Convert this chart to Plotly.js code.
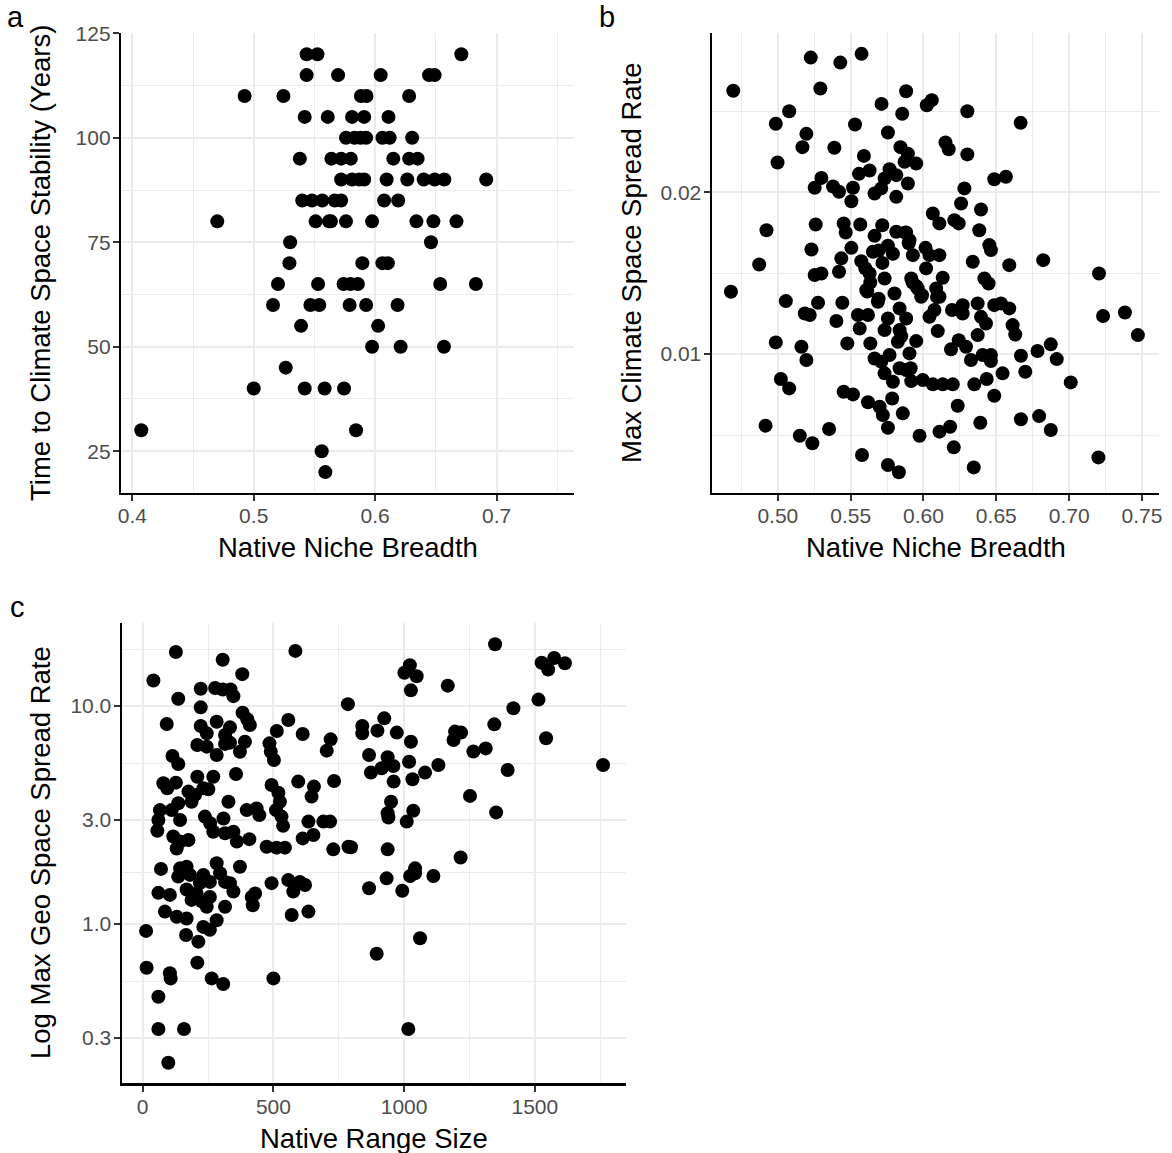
<!DOCTYPE html>
<html>
<head>
<meta charset="utf-8">
<script src="https://cdn.plot.ly/plotly-3.0.1.min.js"></script>
<style>
  html, body { margin: 0; padding: 0; background: #ffffff; }
  #chart { width: 1172px; height: 1153px; }
</style>
</head>
<body>
<div id="chart"></div>
<script>
// ---------- Panel a: Native Niche Breadth vs Time to Climate Space Stability ----------
const aNiche = [
  0.5436, 0.5525, 0.671,
  0.5436, 0.5695, 0.6046, 0.6444, 0.649,
  0.4925, 0.5245, 0.5883, 0.5929, 0.628,
  0.542, 0.561, 0.581, 0.591, 0.611,
  0.576, 0.583, 0.588, 0.5926, 0.606, 0.612, 0.6305,
  0.538, 0.564, 0.572, 0.580, 0.615, 0.628, 0.635,
  0.572, 0.581, 0.587, 0.591, 0.6095, 0.6265, 0.640, 0.649, 0.657, 0.6915,
  0.540, 0.548, 0.5565, 0.5667, 0.572, 0.6074, 0.619,
  0.470, 0.551, 0.562, 0.5636, 0.576, 0.5975, 0.634, 0.648, 0.667,
  0.530, 0.646,
  0.5294, 0.5895, 0.606, 0.6105,
  0.520, 0.553, 0.574, 0.5797, 0.5858, 0.6536, 0.683,
  0.5159, 0.5467, 0.554, 0.579, 0.5926, 0.6185,
  0.539, 0.6025,
  0.5975, 0.621, 0.6567,
  0.5264,
  0.500, 0.542, 0.5584, 0.5744,
  0.4074, 0.5843,
  0.556,
  0.559
];
const aYears = [
  120, 120, 120,
  115, 115, 115, 115, 115,
  110, 110, 110, 110, 110,
  105, 105, 105, 105, 105,
  100, 100, 100, 100, 100, 100, 100,
  95, 95, 95, 95, 95, 95, 95,
  90, 90, 90, 90, 90, 90, 90, 90, 90, 90,
  85, 85, 85, 85, 85, 85, 85,
  80, 80, 80, 80, 80, 80, 80, 80, 80,
  75, 75,
  70, 70, 70, 70,
  65, 65, 65, 65, 65, 65, 65,
  60, 60, 60, 60, 60, 60,
  55, 55,
  50, 50, 50,
  45,
  40, 40, 40, 40,
  30, 30,
  25,
  20
];

// ---------- Panel b: Native Niche Breadth vs Max Climate Space Spread Rate ----------
const bNiche = [
  0.4694,0.5226,0.5429,0.5575,0.5292,0.5881,0.6057,0.6023,0.5712,0.5854,
  0.5078,0.4986,0.5530,0.5756,0.5196,0.5169,0.5388,0.4998,0.5591,0.5842,
  0.5893,0.5950,0.5870,0.5630,0.5557,0.5767,0.5733,0.5813,0.5299,0.5253,
  0.5379,0.5420,0.5516,0.5505,0.5664,0.5710,0.5813,0.5893,0.6064,0.4922,
  0.5260,0.5452,0.5466,0.5566,0.5717,0.5664,0.5813,0.5881,0.5904,0.5756,
  0.5505,0.5231,0.6014,0.4872,0.5436,0.5573,0.5653,0.5927,0.6041,
  0.4678,0.5055,0.5253,0.5299,0.5420,0.5630,0.5733,0.5916,0.6018,0.5607,
  0.5687,0.5801,0.5961,0.5984,0.5276,0.5443,0.5185,0.5219,0.5402,0.5550,
  0.5619,0.5562,0.5756,0.5836,0.5881,0.5733,0.5836,0.6041,0.4986,0.5162,
  0.5477,0.5635,0.5824,0.5950,0.5904,0.5767,0.5664,0.5196,0.5710,0.5836,
  0.5881,0.5733,0.5790,0.5916,0.5995,0.5021,0.5078,0.5452,0.5516,0.5619,
  0.5699,0.5721,0.5785,0.5858,0.4916,0.5151,0.5237,0.5352,0.5756,0.5973,
  0.5578,0.5756,0.5831,
  0.5692,0.5718,0.5635,0.5925,0.5951,0.5600,0.5790,
  0.5614,0.5692,0.5873,0.5899,0.5990,0.6093,0.5847,0.5912,
  0.6301,0.6667,0.6151,0.6173,0.6301,0.6486,0.6566,0.6281,0.6258,0.6395,
  0.6109,0.6212,0.6242,0.6383,0.6452,0.6463,0.6109,0.6338,0.6589,0.6822,
  0.7205,0.6132,0.6087,0.6110,0.6418,0.6447,0.6372,0.6269,0.6196,0.6075,
  0.6486,0.6532,0.6589,0.6395,0.6429,0.6269,0.6098,0.6612,0.6630,0.6372,
  0.7233,0.7383,0.7472,0.6242,0.6292,0.6189,0.6326,0.6406,0.6463,0.6463,
  0.6669,0.6783,0.6874,0.6915,0.6699,0.6543,0.6064,0.6132,0.6201,0.6349,
  0.6434,0.6486,0.7011,0.6235,0.6669,0.6794,0.6874,0.6390,0.6110,0.6183,
  0.6208,0.6345,0.7201
];
const bSpread = [
  0.02626,0.02831,0.02800,0.02854,0.02640,0.02623,0.02568,0.02537,0.02545,0.02484,
  0.02500,0.02422,0.02418,0.02368,0.02360,0.02278,0.02274,0.02183,0.02224,0.02278,
  0.02237,0.02177,0.02187,0.02134,0.02113,0.02142,0.02084,0.02105,0.02088,0.02027,
  0.02035,0.02002,0.02027,0.01944,0.01992,0.02023,0.01971,0.02053,0.01868,0.01765,
  0.01800,0.01807,0.01751,0.01800,0.01796,0.01730,0.01755,0.01751,0.01704,0.01669,
  0.01656,0.01646,0.01656,0.01553,0.01591,0.01574,0.01632,0.01611,0.01611,
  0.01385,0.01327,0.01488,0.01498,0.01508,0.01498,0.01467,0.01467,0.01529,0.01395,
  0.01323,0.01374,0.01405,0.01354,0.01317,0.01317,0.01251,0.01241,0.01204,0.01241,
  0.01241,0.01158,0.01220,0.01282,0.01220,0.01148,0.01148,0.01230,0.01072,0.01045,
  0.01066,0.01066,0.01076,0.01080,0.01004,0.00994,0.00973,0.00963,0.00953,0.00912,
  0.00901,0.00881,0.00829,0.00833,0.00840,0.00846,0.00788,0.00767,0.00751,0.00702,
  0.00675,0.00623,0.00726,0.00634,0.00558,0.00496,0.00449,0.00537,0.00545,0.00496,
  0.00377,0.00315,0.00270,
  0.01640,0.01563,0.01442,0.01442,0.01419,0.01530,0.01620,
  0.01386,0.01342,0.01750,0.01684,0.01364,0.01353,0.01110,0.00912,
  0.02500,0.02428,0.02307,0.02265,0.02233,0.02080,0.02095,0.02023,0.01930,0.01893,
  0.01807,0.01827,0.01807,0.01765,0.01673,0.01642,0.01611,0.01570,0.01549,0.01580,
  0.01498,0.01471,0.01405,0.01354,0.01467,0.01436,0.01313,0.01302,0.01272,0.01272,
  0.01302,0.01313,0.01282,0.01230,0.01189,0.01251,0.01142,0.01179,0.01121,0.01117,
  0.01235,0.01257,0.01117,0.01086,0.01045,0.01029,0.00963,0.00994,0.00994,0.00957,
  0.00990,0.01019,0.01060,0.00969,0.00891,0.00881,0.00813,0.00813,0.00813,0.00813,
  0.00846,0.00743,0.00825,0.00681,0.00597,0.00617,0.00531,0.00576,0.00521,0.00551,
  0.00424,0.00300,0.00362
];

// ---------- Panel c: Native Range Size vs Max Geo Space Spread Rate (log) ----------
const cRange = [
  127,41,306,381,584,222,277,306,336,347,136,222,92,382,400,410,283,222,245,334,
  315,557,513,612,719,704,785,209,245,283,315,334,372,391,485,490,502,114,136,357,
  79,94,127,209,270,175,200,232,251,187,136,66,60,56,111,143,328,398,436,446,
  238,258,309,270,315,347,360,408,493,519,525,510,531,537,595,655,646,732,634,691,
  717,612,653,474,512,544,729,787,117,143,175,130,
  1348,1526,1551,1574,1615,1022,1001,1048,1026,1167,1514,1418,924,840,840,898,972,1026,1195,1218,
  1189,1345,1543,1265,1312,866,937,914,959,873,1019,960,1032,1080,1131,1396,950,937,940,1035,
  1010,1252,1352,797,937,1216,1761,
  70,143,168,136,181,283,296,315,334,347,232,219,206,257,372,60,104,85,130,168,
  168,187,226,257,245,315,283,257,232,13,166,213,209,15,104,107,264,308,500,60,
  60,158,98,417,430,421,493,557,601,621,576,570,634,
  866,933,993,1023,1042,1042,1112,1061,895,1016
];
const cRate = [
  17.7,13.1,16.3,14.0,17.9,12.0,12.1,11.9,11.9,11.1,10.8,9.86,8.27,9.32,8.69,8.18,8.47,8.10,7.49,7.98,
  7.36,8.63,7.68,7.44,7.03,6.24,10.2,6.62,6.51,5.96,6.70,6.79,6.17,6.86,6.74,6.17,5.65,5.90,5.42,4.88,
  4.42,4.19,4.45,4.74,4.74,4.05,3.91,4.19,4.15,3.64,3.58,3.33,3.00,2.68,3.33,3.00,3.64,3.33,3.39,3.16,
  3.11,2.90,3.05,2.65,2.61,2.65,2.39,2.45,4.34,4.00,3.64,3.33,3.11,2.82,4.50,4.27,3.84,4.53,2.95,2.95,
  2.95,2.47,2.56,2.26,2.24,2.24,2.20,2.26,2.52,2.39,2.43,2.22,
  19.2,15.8,14.7,16.6,15.7,15.4,14.2,13.7,11.8,12.4,10.7,9.76,8.78,8.10,7.49,7.71,7.55,6.86,7.63,7.55,
  6.98,8.24,7.11,6.18,6.39,5.96,5.82,5.18,5.31,4.95,5.55,4.50,4.61,4.95,5.36,5.09,3.64,3.22,3.08,3.31,
  2.95,3.87,3.25,2.25,2.20,2.02,5.36,
  1.79,1.80,1.83,1.65,1.68,1.90,1.71,1.56,1.54,1.41,1.68,1.54,1.38,1.56,1.83,1.39,1.36,1.14,1.08,1.06,
  1.44,1.29,1.27,1.33,1.20,1.20,1.04,0.94,0.97,0.93,0.89,0.83,0.665,0.63,0.594,0.563,0.563,0.531,0.563,0.464,
  0.330,0.330,0.231,1.33,1.38,1.22,1.54,1.59,1.56,1.51,1.41,1.10,1.14,
  1.46,1.62,1.42,1.66,1.80,1.71,1.66,0.86,0.73,0.33
];

// ---------- Tick labels ----------
const aXTicks = [0.4, 0.5, 0.6, 0.7];
const aXTickText = ["0.4", "0.5", "0.6", "0.7"];
const aYTicks = [25, 50, 75, 100, 125];
const bXTicks = [0.50, 0.55, 0.60, 0.65, 0.70, 0.75];
const bXTickText = ["0.50", "0.55", "0.60", "0.65", "0.70", "0.75"];
const bYTicks = [0.01, 0.02];
const bYTickText = ["0.01", "0.02"];
const cXTicks = [0, 500, 1000, 1500];
const cYTicks = [0.3, 1, 3, 10];
const cYTickText = ["0.3", "1.0", "3.0", "10.0"];

// ---------- Styling ----------
const W = 1172, H = 1153;
const FONT = "Liberation Sans, Arial, Helvetica, sans-serif";
const tickFont = { family: FONT, size: 21, color: "#4d4d4d" };
const GRID = "#ebebeb";

function px(x0, x1) { return [x0 / W, x1 / W]; }
function py(top, bottom) { return [1 - bottom / H, 1 - top / H]; }

function axis(extra) {
  return Object.assign({
    showline: true, linecolor: "#000000", linewidth: 2.2,
    ticks: "outside", ticklen: 6, tickwidth: 2, tickcolor: "#333333",
    tickfont: tickFont, showgrid: true, gridcolor: GRID, gridwidth: 2,
    zeroline: false, tickmode: "array", automargin: false, fixedrange: true
  }, extra);
}
function minor(vals) {
  return { tickmode: "array", tickvals: vals, showgrid: true, gridcolor: GRID, gridwidth: 1, ticks: "" };
}

const marker = { color: "#000000", size: 14, line: { width: 0 } };

const traces = [
  { type: "scatter", mode: "markers", x: aNiche, y: aYears, xaxis: "x", yaxis: "y", marker: marker, hoverinfo: "x+y" },
  { type: "scatter", mode: "markers", x: bNiche, y: bSpread, xaxis: "x2", yaxis: "y2", marker: marker, hoverinfo: "x+y" },
  { type: "scatter", mode: "markers", x: cRange, y: cRate, xaxis: "x3", yaxis: "y3", marker: marker, hoverinfo: "x+y" }
];

function ann(text, X, Y, size, angle) {
  return {
    text: text, xref: "paper", yref: "paper", x: X / W, y: 1 - Y / H,
    xanchor: "center", yanchor: "middle", showarrow: false, textangle: angle || 0,
    font: { family: FONT, size: size, color: "#000000" }
  };
}

const layout = {
  width: W, height: H,
  margin: { l: 0, r: 0, t: 0, b: 0, pad: 0 },
  paper_bgcolor: "#ffffff", plot_bgcolor: "#ffffff",
  showlegend: false,
  xaxis: axis({ domain: px(121, 574), range: [0.3907, 0.7638], anchor: "y", ticklabelstandoff: -3,
                tickvals: aXTicks, ticktext: aXTickText, minor: minor([0.45, 0.55, 0.65, 0.75]) }),
  yaxis: axis({ domain: py(33.3, 493), range: [15, 125], anchor: "x", ticklabelstandoff: -2,
                tickvals: aYTicks, minor: minor([37.5, 62.5, 87.5, 112.5]) }),
  xaxis2: axis({ domain: px(711.7, 1159.3), range: [0.4546, 0.7619], anchor: "y2", ticklabelstandoff: -3,
                 tickvals: bXTicks, ticktext: bXTickText,
                 minor: minor([0.475, 0.525, 0.575, 0.625, 0.675, 0.725]) }),
  yaxis2: axis({ domain: py(33.3, 493), range: [0.00142, 0.02981], anchor: "x2", ticklabelstandoff: -2,
                 tickvals: bYTicks, ticktext: bYTickText, minor: minor([0.005, 0.015, 0.025]) }),
  xaxis3: axis({ domain: px(121.7, 625.8), range: [-80.3, 1848], anchor: "y3", ticklabelstandoff: -3,
                 tickvals: cXTicks, minor: minor([250, 750, 1250, 1750]) }),
  yaxis3: axis({ domain: py(623.3, 1083.3), type: "log", range: [-0.7307, 1.3794], anchor: "x3", ticklabelstandoff: -2,
                 tickvals: cYTicks, ticktext: cYTickText, minor: minor([0.5477, 1.732, 5.477, 18.26]) }),
  annotations: [
    ann("a", 15, 17, 29),
    ann("b", 607, 17, 29),
    ann("c", 17, 607, 29),
    ann("Native Niche Breadth", 347.5, 547, 27.5),
    ann("Native Niche Breadth", 935.5, 547, 27.5),
    ann("Native Range Size", 373.7, 1138, 27.5),
    ann("Time to Climate Space Stability (Years)", 40, 263, 27.5, -90),
    ann("Max Climate Space Spread Rate", 631, 263, 27.5, -90),
    ann("Log Max Geo Space Spread Rate", 40, 853, 27.5, -90)
  ]
};

Plotly.newPlot("chart", traces, layout, { displayModeBar: false, staticPlot: true });
</script>
</body>
</html>
